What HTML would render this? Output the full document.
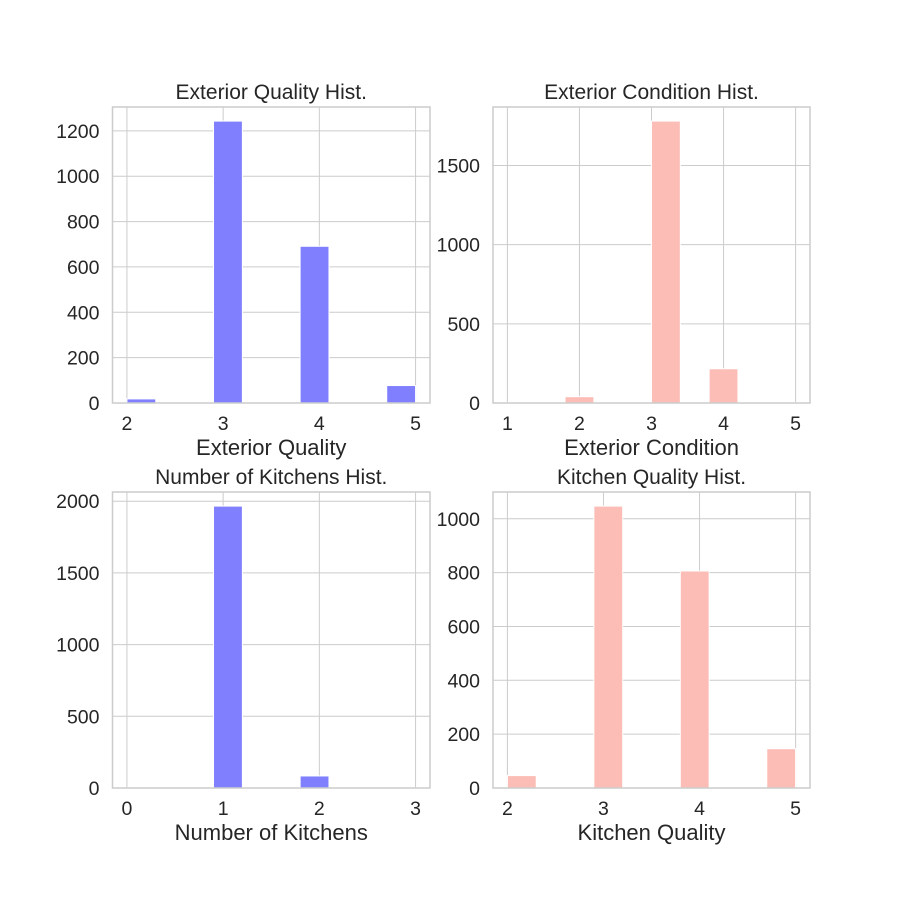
<!DOCTYPE html>
<html><head><meta charset="utf-8"><style>
body{margin:0;background:#fff}
svg text{font-family:"Liberation Sans",Arial,sans-serif;fill:#262626}
</style></head><body>
<svg id="fig" width="900" height="900" viewBox="0 0 900 900" xmlns="http://www.w3.org/2000/svg"></svg>
<script>
// Exterior Quality
const eqCounts=[18,0,0,1243,0,0,691,0,0,77];
const eqTicks=[2,3,4,5];
const eqYTicks=[0,200,400,600,800,1000,1200];
// Exterior Condition
const ecCounts=[3,0,40,0,0,1780,0,216,0,3];
const ecTicks=[1,2,3,4,5];
const ecYTicks=[0,500,1000,1500];
// Number of Kitchens
const nkCounts=[2,0,0,1966,0,0,84,0,0,2];
const nkTicks=[0,1,2,3];
const nkYTicks=[0,500,1000,1500,2000];
// Kitchen Quality
const kqCounts=[46,0,0,1047,0,0,806,0,0,146];
const kqTicks=[2,3,4,5];
const kqYTicks=[0,200,400,600,800,1000];

const NS="http://www.w3.org/2000/svg";
const fig=document.getElementById('fig');
function mk(tag,attrs,parent){const e=document.createElementNS(NS,tag);for(const k in attrs)e.setAttribute(k,attrs[k]);parent.appendChild(e);return e;}

function panel(name,L,T,R,B,xmin,xmax,counts,xticks,yticks,color,title,xlabel){
  const g=mk('g',{},fig);
  
  
  const pad=(xmax-xmin)*0.05, x0=xmin-pad, x1=xmax+pad;
  const ymax=Math.max(...counts)*1.05;
  const sx=v=>L+(v-x0)/(x1-x0)*(R-L);
  const sy=v=>B-v/ymax*(B-T);
  yticks.forEach(t=>{
    const l=mk('line',{x1:L,x2:R,y1:sy(t),y2:sy(t),stroke:'#cccccc','stroke-width':1},g);
    
    
    const tx=mk('text',{x:L-13,y:sy(t)+7,'text-anchor':'end','font-size':'19.5'},g);
    tx.textContent=t;
    
    
  });
  xticks.forEach(t=>{
    const l=mk('line',{x1:sx(t),x2:sx(t),y1:T,y2:B,stroke:'#cccccc','stroke-width':1},g);
    
    
    const tx=mk('text',{x:sx(t),y:B+27,'text-anchor':'middle','font-size':'19.5'},g);
    tx.textContent=t;
    
    
  });
  const bw=(xmax-xmin)/counts.length;
  counts.forEach((c,i)=>{
    if(c<=0)return;
    const xa=sx(xmin+i*bw), xb=sx(xmin+(i+1)*bw);
    const r=mk('rect',{x:xa,y:sy(c),width:xb-xa,height:B-sy(c),fill:color,stroke:'#fff','stroke-width':1},g);
    
    
  });
  const f=mk('rect',{x:L,y:T,width:R-L,height:B-T,fill:'none',stroke:'#cccccc','stroke-width':1.5},g);
  
  
  const ti=mk('text',{x:(L+R)/2,y:T-8,'text-anchor':'middle','font-size':'21'},g);
  ti.textContent=title;
  
  
  const xl=mk('text',{x:(L+R)/2,y:B+52,'text-anchor':'middle','font-size':'22'},g);
  xl.textContent=xlabel;
  
  
}
const blue='#8080ff', pink='#fbbdb5';
panel('exterior-quality',112.5,107,430,403,2,5,eqCounts,eqTicks,eqYTicks,blue,'Exterior Quality Hist.','Exterior Quality');
panel('exterior-condition',493,107,810,403,1,5,ecCounts,ecTicks,ecYTicks,pink,'Exterior Condition Hist.','Exterior Condition');
panel('number-of-kitchens',112.5,492,430,788,0,3,nkCounts,nkTicks,nkYTicks,blue,'Number of Kitchens Hist.','Number of Kitchens');
panel('kitchen-quality',493,492,810,788,2,5,kqCounts,kqTicks,kqYTicks,pink,'Kitchen Quality Hist.','Kitchen Quality');
</script>
</body></html>
